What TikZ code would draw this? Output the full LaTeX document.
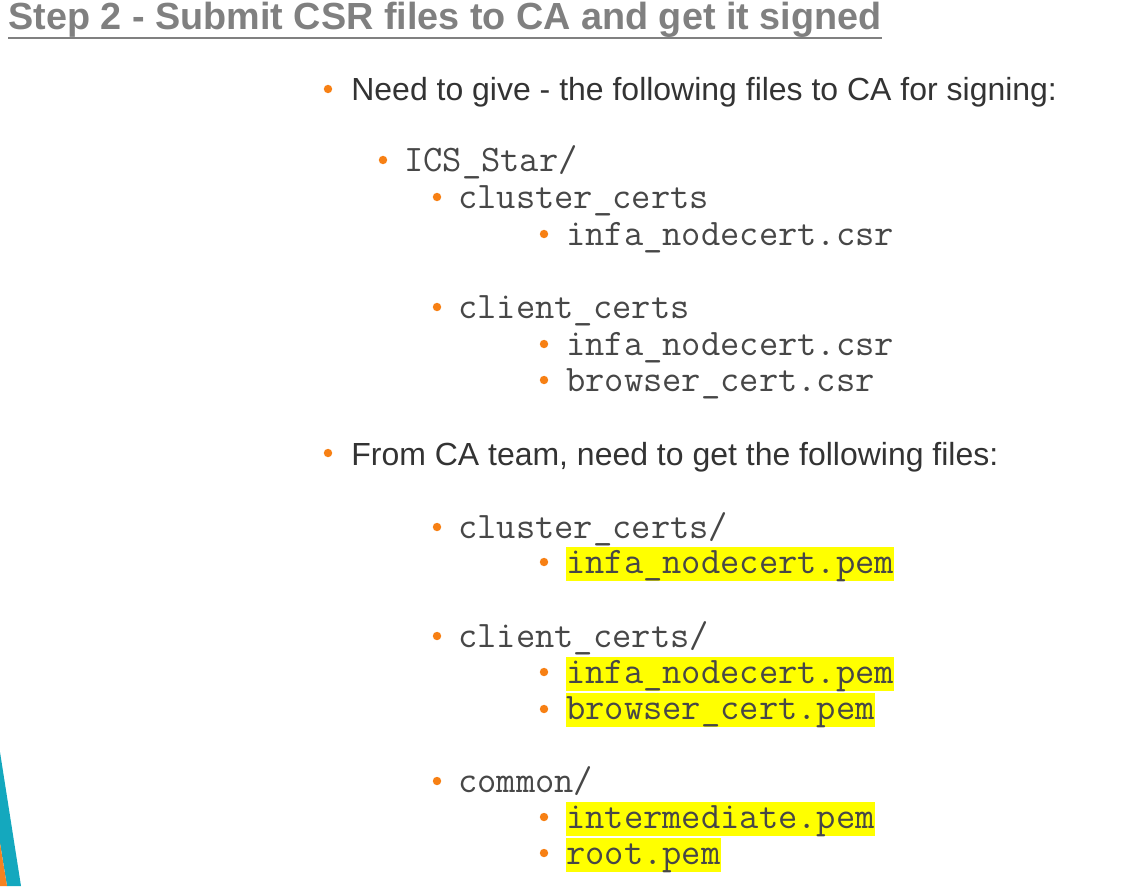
\documentclass[tikz,border=0pt]{standalone}
\usepackage{fontspec}
\setmainfont{Liberation Sans}
\definecolor{titlegray}{RGB}{128, 128, 128}
\definecolor{inkgray}{RGB}{51, 51, 51}
\definecolor{dotorange}{RGB}{247, 128, 20}
\definecolor{hiyellow}{RGB}{255, 255, 0}
\definecolor{slideteal}{RGB}{20, 168, 190}
\definecolor{slideorange}{RGB}{245, 130, 32}

\begin{document}
\begin{tikzpicture}[x=0.02cm, y=-0.02cm,
        txt/.style={anchor=base west, inner sep=0pt, text=inkgray, font=\fontsize{18.2}{22}\selectfont},
        mono/.style={txt, text=inkgray!90, font=\fontsize{21.3}{24}\selectfont\ttfamily},
        hl/.style={mono, fill=hiyellow, text height=15pt, text depth=4.8pt},
        dot/.style={fill=dotorange}]
            % Frame to fix the slide size
            \useasboundingbox (0, 0) rectangle (1125, 886);
            % Title
            \node[anchor=base west, inner sep=0pt, text=titlegray, font=\fontsize{21.5}{26}\selectfont\bfseries] (title) at (8, 29) {Step 2 - Submit CSR files to CA and get it signed};
            \draw[color=titlegray, line width=1.1pt] ([yshift=-4.9pt]title.base west) -- ([yshift=-4.9pt]title.base east);
            % Files to give
            \fill[dot] (328,  89) circle (2.4pt);
            \node[txt]  (give)           at (351, 100) {Need to give - the following files to CA for signing:};
            \fill[dot] (383, 160) circle (2.4pt);
            \node[mono] (icsstar)        at (404, 171) {ICS\_Star/};
            \fill[dot] (437, 197) circle (2.4pt);
            \node[mono] (clustercerts)   at (458, 208) {cluster\_certs};
            \fill[dot] (544, 234) circle (2.4pt);
            \node[mono] (clusternodecsr) at (566, 245) {infa\_nodecert.csr};
            \fill[dot] (437, 307) circle (2.4pt);
            \node[mono] (clientcerts)    at (458, 318) {client\_certs};
            \fill[dot] (544, 344) circle (2.4pt);
            \node[mono] (clientnodecsr)  at (566, 355) {infa\_nodecert.csr};
            \fill[dot] (544, 380) circle (2.4pt);
            \node[mono] (browsercsr)     at (566, 391) {browser\_cert.csr};
            % Files to get back
            \fill[dot] (328, 453) circle (2.4pt);
            \node[txt]  (fromca)         at (351, 465) {From CA team, need to get the following files:};
            \fill[dot] (437, 527) circle (2.4pt);
            \node[mono] (clusterdir)     at (458, 538) {cluster\_certs/};
            \fill[dot] (544, 562) circle (2.4pt);
            \node[hl]   (clusternodepem) at (566, 573) {infa\_nodecert.pem};
            \fill[dot] (437, 636) circle (2.4pt);
            \node[mono] (clientdir)      at (458, 647) {client\_certs/};
            \fill[dot] (544, 672) circle (2.4pt);
            \node[hl]   (clientnodepem)  at (566, 683) {infa\_nodecert.pem};
            \fill[dot] (544, 709) circle (2.4pt);
            \node[hl]   (browserpem)     at (566, 719) {browser\_cert.pem};
            \fill[dot] (437, 781) circle (2.4pt);
            \node[mono] (commondir)      at (458, 792) {common/};
            \fill[dot] (544, 817) circle (2.4pt);
            \node[hl]   (intermediatepem) at (566, 828) {intermediate.pem};
            \fill[dot] (544, 853) circle (2.4pt);
            \node[hl]   (rootpem)        at (566, 864) {root.pem};
            % Slide corner
            \fill[color=slideteal]   (0, 752) -- (21, 886) -- (7, 886) -- (0, 843) -- cycle;
            \fill[color=slideorange] (0, 843) -- (7, 886) -- (0, 886) -- cycle;
        \end{tikzpicture}
\end{document}
